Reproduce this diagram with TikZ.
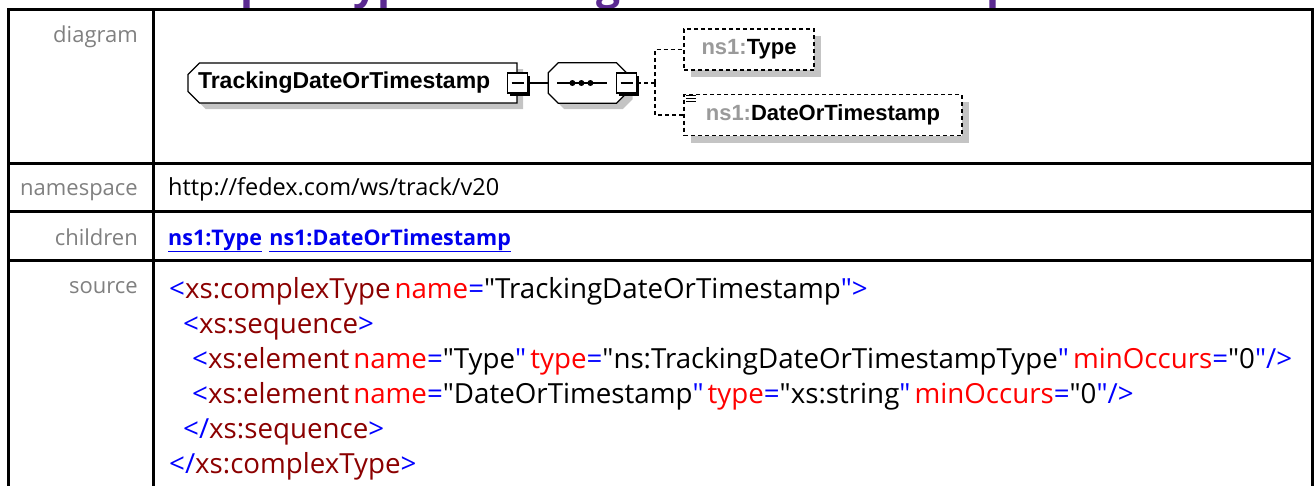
\documentclass[tikz,border=0pt]{standalone}
\usepackage{fontspec}
\setmainfont{Open Sans}
\newfontfamily\boxfont{Liberation Sans}
\usetikzlibrary{shapes.misc, shadows, positioning}
\definecolor{LabelGray}{HTML}{808080}
\definecolor{PrefixGray}{HTML}{9A9A9A}
\definecolor{ShadowGray}{HTML}{C4C4C4}
\definecolor{TagBlue}{HTML}{0000FF}
\definecolor{ElemRed}{HTML}{8B0000}
\definecolor{AttrRed}{HTML}{FF0000}
\definecolor{LinkBlue}{HTML}{0000EE}
\definecolor{TitlePurple}{HTML}{5B2A91}

\newcommand{\tg}[1]{\textcolor{TagBlue}{#1}}
\newcommand{\el}[1]{\textcolor{ElemRed}{#1}}
\newcommand{\at}[1]{\textcolor{AttrRed}{#1}}
\newcommand{\q}{\textquotedbl}
\newcommand{\gap}{\hspace{4pt}}
\newcommand{\lnk}[1]{\underline{\textbf{#1}}}

\begin{document}
\begin{tikzpicture}[
    x=1pt, y=-1pt,
    tline/.style={line width=3pt, line cap=rect},
    title/.style={anchor=base west, inner sep=0pt, text=TitlePurple, font=\bfseries\fontsize{42.6}{48}\selectfont},
    lbl/.style={anchor=base east, inner sep=0pt, text=LabelGray, font=\fontsize{22}{24}\selectfont},
    val/.style={anchor=base west, inner sep=0pt, font=\fontsize{21.5}{24}\selectfont},
    srcline/.style={anchor=base west, inner sep=0pt, font=\fontsize{27.7}{30}\selectfont},
    boxshadow/.style={drop shadow={shadow xshift=6pt, shadow yshift=-6pt, fill=ShadowGray, opacity=1}},
    mainel/.style={chamfered rectangle, chamfered rectangle corners={north west,south west}, chamfered rectangle xsep=8pt, draw, line width=1.2pt, fill=white, minimum width=329pt, minimum height=40pt, text width=309pt, align=left, inner xsep=2pt, inner ysep=0pt, font=\boxfont\bfseries\fontsize{23}{26}\selectfont, boxshadow},
    seqbox/.style={minimum width=78pt, minimum height=40pt, inner sep=0pt},
    octo/.style={line width=1.2pt, fill=white, boxshadow},
    minusbox/.style={draw, line width=1.2pt, fill=white, minimum size=20pt, inner sep=0pt, drop shadow={shadow xshift=2.5pt, shadow yshift=-2.5pt, fill=black, opacity=1}, path picture={\draw[line width=1.2pt] ([xshift=4pt]path picture bounding box.west) -- ([xshift=-4pt]path picture bounding box.east);}},
    elbox/.style={draw, dash pattern=on 4pt off 3pt, line width=1.5pt, fill=white, minimum height=41pt, inner sep=0pt, font=\boxfont\bfseries\fontsize{22}{26}\selectfont, drop shadow={shadow xshift=7pt, shadow yshift=-7pt, fill=ShadowGray, opacity=1}},
    conn/.style={line width=1.5pt, dash pattern=on 4pt off 3pt},
    link/.style={line width=1.2pt}
  ]
  \useasboundingbox (0,0) rectangle (1314,485);
  \clip (0,0) rectangle (1314,485);

  % heading, mostly cut off
  \node[title] (ttl) at (150,-1) {complexType TrackingDateOrTimestamp};

  % table grid
  \draw[tline] (8.5,485) -- (8.5,9.5) -- (1312.5,9.5) -- (1312.5,485);
  \draw[tline] (153,9.5) -- (153,485);
  \foreach \y in {163,211.5,260}
    \draw[tline] (8.5,\y) -- (1312.5,\y);

  % row labels
  \node[lbl] (lbldiag) at (138,42) {diagram};
  \node[lbl] (lblns) at (138,195) {namespace};
  \node[lbl] (lblkids) at (138,245) {children};
  \node[lbl] (lblsrc) at (138,293) {source};

  % diagram
  \node[mainel] (trk) at (352.5,83) {TrackingDateOrTimestamp};
  \node[minusbox] (colmain) at (trk.east) {};
  \node[seqbox, right=20pt of colmain] (seq) {};
  \draw[octo] ([xshift=10pt]seq.north west) -- ([xshift=-10pt]seq.north east)
    -- ([yshift=-10pt]seq.north east) -- ([yshift=10pt]seq.south east)
    -- ([xshift=-10pt]seq.south east) -- ([xshift=10pt]seq.south west)
    -- ([yshift=10pt]seq.south west) -- ([yshift=-10pt]seq.north west) -- cycle;
  \draw[line width=1.2pt] ([xshift=-30pt]seq.center) -- ([xshift=20pt]seq.center);
  \foreach \dx in {-15,-6,3}
    \fill ([xshift=\dx pt]seq.center) circle (3pt);
  \node[minusbox] (colseq) at (seq.east) {};
  \coordinate (fork) at (655,83);

  \node[elbox, minimum width=130pt] (typebox) at (749,49.5) {\textcolor{PrefixGray}{ns1:}Type};
  \node[elbox, minimum width=278pt] (datebox) at (823,115) {\textcolor{PrefixGray}{ns1:}DateOrTimestamp};
  \foreach \d in {2,5,8}
    \draw[line width=1pt] ([xshift=3pt,yshift=-\d pt]datebox.north west) -- ++(10,0);

  \draw[link] (colmain.east) -- (seq.west);
  \draw[conn] (colseq.east) -- (fork);
  \draw[conn] (fork) |- (typebox.west);
  \draw[conn] (fork) |- (datebox.west);

  % namespace and children
  \node[val, font=\fontsize{23.5}{26}\selectfont] (nsval) at (168,195) {http://fedex.com/ws/track/v20};
  \node[val, text=LinkBlue] (kidtype) at (168,245) {\lnk{ns1:Type}};
  \node[val, text=LinkBlue, base right=7pt of kidtype] (kiddate) {\lnk{ns1:DateOrTimestamp}};

  % source
  \node[srcline] (src1) at (169,298) {\tg{<}\el{xs:complexType}\gap\at{name}\tg{=}\q TrackingDateOrTimestamp\tg{\q>}};
  \node[srcline] (src2) at (183,333) {\tg{<}\el{xs:sequence}\tg{>}};
  \node[srcline] (src3) at (192,368) {\tg{<}\el{xs:element}\gap\at{name}\tg{=}\q Type\tg{\q}\gap\at{type}\tg{=}\q ns:TrackingDateOrTimestampType\tg{\q}\gap\at{minOccurs}\tg{=}\q 0\tg{\q/>}};
  \node[srcline] (src4) at (192,403) {\tg{<}\el{xs:element}\gap\at{name}\tg{=}\q DateOrTimestamp\tg{\q}\gap\at{type}\tg{=}\q xs:string\tg{\q}\gap\at{minOccurs}\tg{=}\q 0\tg{\q/>}};
  \node[srcline] (src5) at (183,438) {\tg{</}\el{xs:sequence}\tg{>}};
  \node[srcline] (src6) at (169,473) {\tg{</}\el{xs:complexType}\tg{>}};
\end{tikzpicture}
\end{document}
